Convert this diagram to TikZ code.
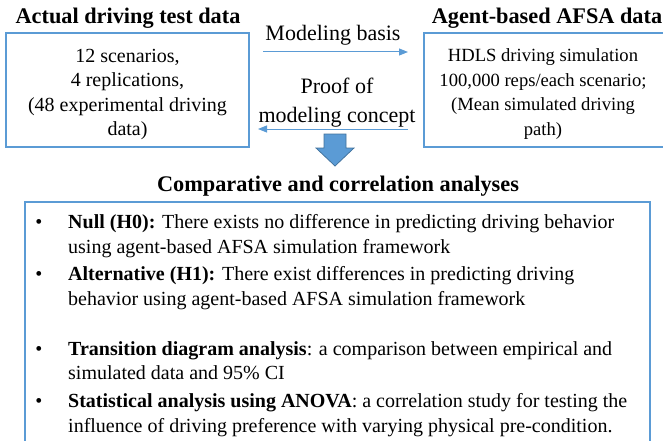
\documentclass[tikz,border=0pt]{standalone}
\usepackage{fontspec}
\setmainfont{Liberation Serif}
\usetikzlibrary{arrows.meta}
\definecolor{boxblue}{HTML}{5B9BD5}
\definecolor{arrowedge}{HTML}{41719C}
\begin{document}
\begin{tikzpicture}[x=1pt,y=-1pt,
  titletext/.style={font=\fontsize{22.3}{26}\selectfont\bfseries, inner sep=0pt, anchor=base},
  bodytext/.style={font=\fontsize{20}{24.5}\selectfont, inner sep=0pt},
  smalltext/.style={font=\fontsize{18.6}{24.5}\selectfont, inner sep=0pt},
  labeltext/.style={font=\fontsize{22}{24.5}\selectfont, inner sep=0pt},
  databox/.style={draw=boxblue, line width=1.5pt, inner sep=0pt},
  conn/.style={draw=boxblue, line width=1pt, -{Triangle[length=9pt,width=7pt]}},
  bigarrow/.style={fill=boxblue, draw=arrowedge, line width=0.75pt, line join=miter},
]
\useasboundingbox (0,0) rectangle (663,441);

% titles
\node[titletext] (ltitle) at (128,24) {Actual driving test data};
\node[titletext] (rtitle) at (547,24) {Agent-based AFSA data};

% data boxes
\node[databox, minimum width=243pt, minimum height=114pt] (lbox) at (127.5,90) {};
\node[bodytext, align=center, anchor=north] (ltext) at (127.5,48.9)
  {12 scenarios,\\4 replications,\\(48 experimental driving\\data)};
\node[databox, minimum width=242pt, minimum height=114pt] (rbox) at (545,90) {};
\node[smalltext, align=center, anchor=north] (rtext) at (543,48.4)
  {HDLS driving simulation\\100,000 reps/each scenario;\\(Mean simulated driving\\path)};

% connectors
\coordinate (mbs) at (263,52);
\coordinate (mbe) at (408,52);
\draw[conn] (mbs) -- (mbe);
\node[labeltext, anchor=base] (mblabel) at (333,41) {Modeling basis};

\coordinate (pcs) at (408,129);
\coordinate (pce) at (258,129);
\draw[conn] (pcs) -- (pce);
\node[labeltext, align=center, anchor=north] (pclabel) at (337,77.5)
  {Proof of\\[4.5pt]modeling concept};

% block arrow
\draw[bigarrow] (324,134) -- (346,134) -- (346,148) -- (354,148) -- (335,166)
  -- (316,148) -- (324,148) -- cycle;

% bottom title and box
\node[titletext] (ctitle) at (338,191) {Comparative and correlation analyses};
\node[databox, minimum width=625pt, minimum height=245pt] (bbox) at (337.5,324.5) {};

% bullets
\node[bodytext, anchor=base] (b1) at (39,228) {\textbullet};
\node[bodytext, anchor=base] (b2) at (39,280) {\textbullet};
\node[bodytext, anchor=base] (b3) at (39,355) {\textbullet};
\node[bodytext, anchor=base] (b4) at (39,407) {\textbullet};

% items
\node[bodytext, align=left, anchor=north west] (i1) at (68,214.3)
  {\textbf{Null (H0):} There exists no difference in predicting driving behavior\\
   using agent-based AFSA simulation framework};
\node[bodytext, align=left, anchor=north west] (i2) at (68,266.3)
  {\textbf{Alternative (H1):} There exist differences in predicting driving\\
   behavior using agent-based AFSA simulation framework};
\node[bodytext, align=left, anchor=north west] (i3) at (68,341.3)
  {\textbf{Transition diagram analysis}: a comparison between empirical and\\
   simulated data and 95\% CI};
\node[bodytext, align=left, anchor=north west] (i4) at (68,393.3)
  {\textbf{Statistical analysis using ANOVA}: a correlation study for testing the\\
   influence of driving preference with varying physical pre-condition.};
\end{tikzpicture}
\end{document}
